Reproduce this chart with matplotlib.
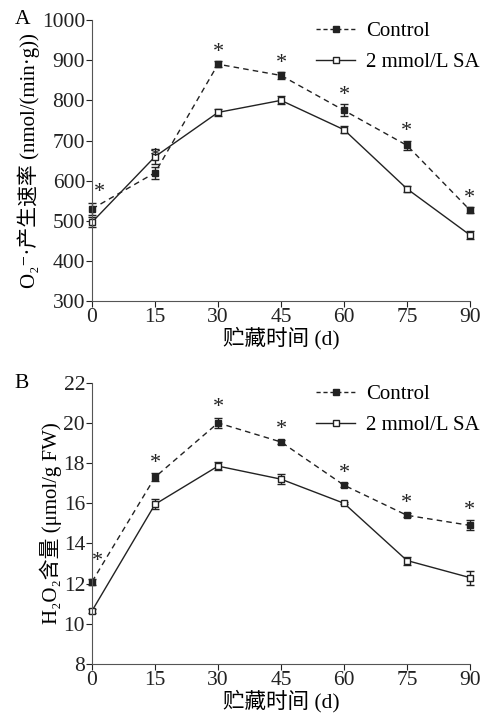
import matplotlib
matplotlib.use('Agg')
import matplotlib.pyplot as plt
from matplotlib.lines import Line2D

plt.rcParams['font.family'] = ['Liberation Serif', 'Noto Sans CJK SC', 'DejaVu Serif']

days = [0, 15, 30, 45, 60, 75, 90]

# panel A: O2- production rate
a_control = [530, 620, 890, 862, 775, 688, 527]
a_control_err = [15, 15, 8, 8, 15, 12, 8]
a_sa = [497, 660, 770, 800, 727, 580, 465]
a_sa_err = [12, 18, 8, 10, 8, 8, 10]

# panel B: H2O2 content
b_control = [12.1, 17.3, 20.0, 19.05, 16.9, 15.4, 14.9]
b_control_err = [0.15, 0.2, 0.25, 0.1, 0.1, 0.1, 0.25]
b_sa = [10.65, 15.95, 17.85, 17.2, 16.0, 13.15, 12.3]
b_sa_err = [0.1, 0.25, 0.2, 0.25, 0.05, 0.2, 0.35]

xlabel = '贮藏时间 (d)'
col = '#222222'

fig = plt.figure(figsize=(4.82, 7.14), dpi=100)
axA = fig.add_axes([0.191, 0.578, 0.784, 0.394])
axB = fig.add_axes([0.191, 0.070, 0.784, 0.394])


def draw(ax, ctrl, ctrl_err, sa, sa_err, ylim, yticks, ylabel, star_off, first_star):
    ax.errorbar(days, ctrl, yerr=ctrl_err, color=col, ls=(0, (4, 3)), lw=1,
                marker='s', ms=5, mfc=col, mec=col, capsize=3, elinewidth=1,
                clip_on=False)
    ax.errorbar(days, sa, yerr=sa_err, color=col, ls='-', lw=1,
                marker='s', ms=5, mfc='white', mec=col, capsize=3, elinewidth=1,
                clip_on=False)
    for i, (d, v, e) in enumerate(zip(days, ctrl, ctrl_err)):
        if i == 0:
            ax.text(first_star[0], first_star[1], '*', ha='center', va='center', fontsize=16, color=col)
        else:
            ax.text(d, v + e + star_off, '*', ha='center', va='center', fontsize=16, color=col)
    ax.set_xlim(0, 90)
    ax.set_ylim(*ylim)
    ax.set_xticks(days)
    ax.set_yticks(yticks)
    ax.spines['top'].set_visible(False)
    ax.spines['right'].set_visible(False)
    for s in ['left', 'bottom']:
        ax.spines[s].set_color('#555555')
    ax.tick_params(direction='out', length=4, labelsize=15.5, colors='#222222', pad=1)
    ax.set_xlabel(xlabel, fontsize=15.5, labelpad=0)
    ax.set_ylabel(ylabel, fontsize=15, labelpad=1)
    handles = [
        Line2D([], [], color=col, ls=(0, (3, 2)), lw=1, marker='s', ms=4, mfc=col, mec=col),
        Line2D([], [], color=col, ls='-', lw=1, marker='s', ms=4, mfc='white', mec=col),
    ]
    ax.legend(handles, ['Control', '2 mmol/L SA'], loc='upper right',
              bbox_to_anchor=(1.075, 1.06), frameon=False, fontsize=15,
              handlelength=1.9, handletextpad=0.5, labelspacing=0.55)


draw(axA, a_control, a_control_err, a_sa, a_sa_err, (300, 1000),
     range(300, 1001, 100), 'O₂⁻·产生速率 (nmol/(min·g))', 22, (1.8, 570))
draw(axB, b_control, b_control_err, b_sa, b_sa_err, (8, 22),
     range(8, 23, 2), 'H₂O₂含量 (μmol/g FW)', 0.5, (1.4, 13.1))

fig.text(0.03, 0.972, 'A', fontsize=15.5, va='center')
fig.text(0.03, 0.463, 'B', fontsize=15.5, va='center')

fig.savefig('out.png', dpi=100)
